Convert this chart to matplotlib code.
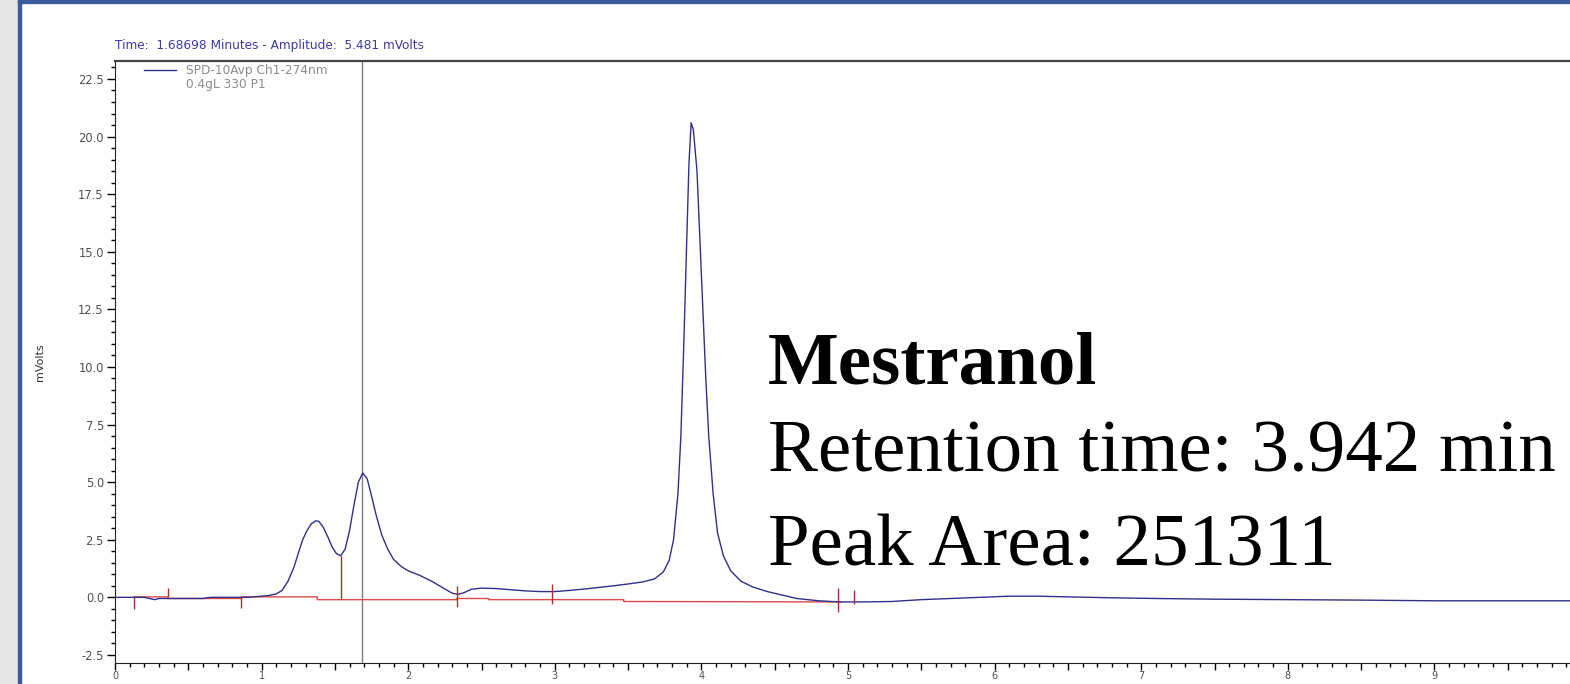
import matplotlib
matplotlib.use("Agg")
import matplotlib.pyplot as plt
import numpy as np
from matplotlib.lines import Line2D
from matplotlib.patches import Rectangle
from matplotlib.ticker import MultipleLocator, FuncFormatter


# chromatogram trace (minutes, mVolts)
time_min = [0.0, 0.12, 0.2, 0.27, 0.3, 0.4, 0.6, 0.65, 0.8, 0.9, 1.0, 1.05, 1.1,
            1.14, 1.18, 1.22, 1.25, 1.28, 1.31, 1.34, 1.37, 1.39, 1.42, 1.45,
            1.48, 1.51, 1.54, 1.57, 1.6, 1.63, 1.66, 1.69, 1.72, 1.75, 1.78,
            1.82, 1.86, 1.9, 1.95, 2.0, 2.08, 2.16, 2.24, 2.3, 2.34, 2.38, 2.43,
            2.5, 2.6, 2.7, 2.8, 2.9, 3.0, 3.1, 3.2, 3.3, 3.4, 3.5, 3.6, 3.68,
            3.74, 3.78, 3.81, 3.84, 3.86, 3.88, 3.9, 3.915, 3.93, 3.945, 3.97,
            3.99, 4.01, 4.03, 4.05, 4.08, 4.11, 4.15, 4.2, 4.27, 4.35, 4.45,
            4.55, 4.65, 4.8, 4.95, 5.1, 5.3, 5.5, 5.7, 5.9, 6.1, 6.3, 6.5, 6.8,
            7.1, 7.5, 8.0, 8.5, 9.0, 9.5, 9.95]
signal_mv = [0.0, 0.0, 0.0, -0.1, -0.05, -0.05, -0.05, 0.0, 0.0, 0.0, 0.05, 0.08,
             0.15, 0.3, 0.7, 1.3, 1.9, 2.5, 2.9, 3.2, 3.32, 3.3, 3.05, 2.65,
             2.2, 1.9, 1.8, 2.1, 2.9, 4.0, 5.0, 5.4, 5.15, 4.4, 3.6, 2.7, 2.1,
             1.65, 1.35, 1.15, 0.95, 0.7, 0.4, 0.18, 0.13, 0.2, 0.35, 0.4, 0.38,
             0.33, 0.28, 0.25, 0.25, 0.3, 0.36, 0.43, 0.5, 0.58, 0.67, 0.8, 1.1,
             1.6, 2.5, 4.5, 7.0, 11.0, 15.5, 18.8, 20.6, 20.3, 18.5, 15.5, 12.5,
             9.5, 7.0, 4.5, 2.8, 1.8, 1.15, 0.7, 0.45, 0.25, 0.1, -0.05, -0.15,
             -0.2, -0.2, -0.18, -0.1, -0.05, 0.0, 0.05, 0.05, 0.02, -0.02, -0.05,
             -0.08, -0.1, -0.12, -0.15, -0.15, -0.15]

# integration baseline
baseline_t = [0.13, 0.36, 0.36, 0.86, 0.86, 1.38, 1.38, 2.33, 2.33, 2.55, 2.55,
              2.98, 2.98, 3.47, 3.47, 4.95]
baseline_mv = [0.02, 0.02, -0.05, -0.05, 0.02, 0.02, -0.1, -0.1, -0.05, -0.05,
               -0.1, -0.1, -0.1, -0.1, -0.18, -0.2]

# peak start / stop markers
marker_t = [0.13, 0.36, 0.86, 1.54, 2.33, 2.98, 4.93, 5.04]
marker_lo = [-0.5, 0.0, -0.45, -0.08, -0.4, -0.3, -0.65, -0.3]
marker_hi = [0.0, 0.4, 0.0, 1.8, 0.5, 0.6, 0.4, 0.3]

cursor_time = 1.68698
cursor_amp = 5.481

W, H = 1570, 684
fig = plt.figure(figsize=(W / 100, H / 100), dpi=100)
fig.patch.set_facecolor("white")

# slide frame
fig.add_artist(Rectangle((0, 0), 18 / W, 1, transform=fig.transFigure,
                         color="#e6e6e6", zorder=0))
fig.add_artist(Rectangle((18 / W, 0), 3 / W, 1, transform=fig.transFigure,
                         color="#3a5a9c", zorder=1))
fig.add_artist(Rectangle((18 / W, 1 - 3 / H), 1, 3 / H, transform=fig.transFigure,
                         color="#3a5a9c", zorder=1))

ax_left, ax_top, ax_bottom = 115, 61, 663
ax = fig.add_axes([ax_left / W, (H - ax_bottom) / H, 1 - ax_left / W,
                   (ax_bottom - ax_top) / H])

line, = ax.plot(time_min, signal_mv, color="#30308c", lw=1.0, zorder=3)
ax.plot(baseline_t, baseline_mv, color="#d94a4a", lw=1.0, zorder=2)
ax.vlines(marker_t, marker_lo, marker_hi, color="#b52a2a", lw=1.0, zorder=4)
ax.axvline(cursor_time, color="#808080", lw=1.0, zorder=1)

ax.set_xlim(0, (W - ax_left) / 146.6)
ax.set_ylim(-2.85, 23.28)

ax.xaxis.set_major_locator(MultipleLocator(0.5))
ax.xaxis.set_minor_locator(MultipleLocator(0.1))
ax.xaxis.set_major_formatter(FuncFormatter(
    lambda v, p: f"{int(round(v))}" if abs(v - round(v)) < 1e-6 else ""))
ax.yaxis.set_major_locator(MultipleLocator(2.5))
ax.yaxis.set_minor_locator(MultipleLocator(0.5))
ax.yaxis.set_major_formatter(FuncFormatter(lambda v, p: f"{v:.1f}"))

ax.tick_params(which="major", length=6, width=1, direction="out",
               labelsize=8.3, labelcolor="#505050", pad=2)
ax.tick_params(axis="x", which="major", length=5, pad=1, labelsize=7)
ax.tick_params(which="minor", length=3, width=1, direction="out")

ax.spines["right"].set_visible(False)
ax.spines["left"].set_color("#222222")
ax.spines["bottom"].set_color("#222222")
ax.spines["top"].set_color("#444444")
ax.spines["top"].set_linewidth(1.6)

ax.set_ylabel("mVolts", fontsize=8, color="#303030", labelpad=24)

blank = Line2D([], [], color="none")
ax.legend([line, blank], ["SPD-10Avp Ch1-274nm", "0.4gL 330 P1"],
          loc="upper left",
          bbox_to_anchor=((143 - ax_left) / (W - ax_left), 1 - 2 / (ax_bottom - ax_top)),
          frameon=False, borderpad=0.1, borderaxespad=0, handlelength=2.6,
          handletextpad=0.9, labelspacing=0.05,
          prop={"size": 8.7}, labelcolor="#8c8c8c")

fig.text(ax_left / W, 1 - 45 / H,
         f"Time:  {cursor_time:.5f} Minutes - Amplitude:  {cursor_amp:.3f} mVolts",
         fontsize=8.7, color="#3c3ca0", va="center")

serif = "Liberation Serif"
fig.text(768 / W, 1 - 383 / H, "Mestranol", fontsize=54, fontweight="bold",
         family=serif, va="baseline")
fig.text(768 / W, 1 - 472 / H, "Retention time: 3.942 min", fontsize=54,
         family=serif, va="baseline")
fig.text(768 / W, 1 - 565 / H, "Peak Area: 251311", fontsize=54,
         family=serif, va="baseline")

fig.savefig("out.png", dpi=100, facecolor="white")
